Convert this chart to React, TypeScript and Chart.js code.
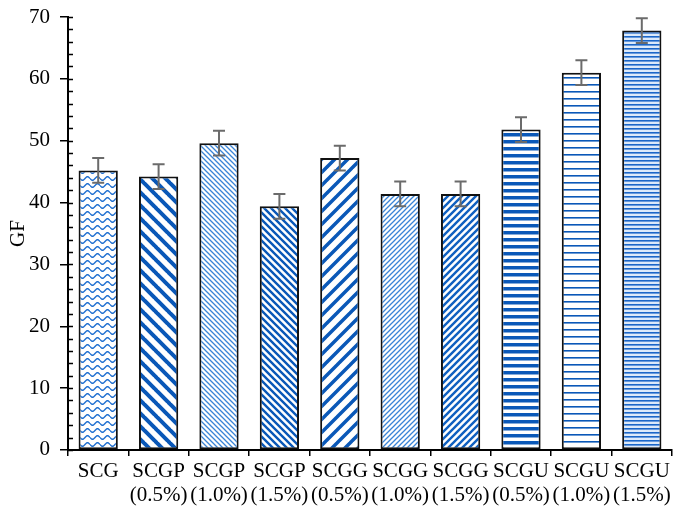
import React, { useEffect, useRef } from "react";
import { Chart, registerables } from "chart.js";

Chart.register(...registerables);

const categories: string[][] = [
  ["SCG"],
  ["SCGP", "(0.5%)"],
  ["SCGP", "(1.0%)"],
  ["SCGP", "(1.5%)"],
  ["SCGG", "(0.5%)"],
  ["SCGG", "(1.0%)"],
  ["SCGG", "(1.5%)"],
  ["SCGU", "(0.5%)"],
  ["SCGU", "(1.0%)"],
  ["SCGU", "(1.5%)"],
];
const gfValues = [45.2, 44.2, 49.6, 39.4, 47.2, 41.4, 41.4, 51.8, 61.0, 67.8];
const gfErrors = [2.0, 2.0, 2.0, 2.0, 2.0, 2.0, 2.0, 2.0, 2.0, 2.0];
const patternKinds = [
  "wave",
  "diagDownWide",
  "diagDownFine",
  "diagDownMed",
  "diagUpWide",
  "diagUpFine",
  "diagUpMed",
  "horizThick",
  "horizThin",
  "horizDense",
];

function makeTile(w: number, h: number, draw: (c: CanvasRenderingContext2D) => void) {
  const cv = document.createElement("canvas");
  cv.width = w;
  cv.height = h;
  const c = cv.getContext("2d")!;
  c.fillStyle = "#ffffff";
  c.fillRect(0, 0, w, h);
  draw(c);
  return cv;
}

function diagTile(s: number, lw: number, color: string, down: boolean) {
  return makeTile(s, s, (c) => {
    c.strokeStyle = color;
    c.lineWidth = lw;
    c.beginPath();
    for (let k = -1; k <= 1; k++) {
      if (down) {
        c.moveTo(k * s - 1, -1);
        c.lineTo(k * s + s + 1, s + 1);
      } else {
        c.moveTo(k * s - 1, s + 1);
        c.lineTo(k * s + s + 1, -1);
      }
    }
    c.stroke();
  });
}

function horizTile(period: number, lw: number, color: string, bg: string) {
  return makeTile(4, period, (c) => {
    c.fillStyle = bg;
    c.fillRect(0, 0, 4, period);
    c.fillStyle = color;
    c.fillRect(0, 0, 4, lw);
  });
}

function waveTile() {
  return makeTile(10, 7, (c) => {
    c.strokeStyle = "#1f6fd0";
    c.lineWidth = 1.4;
    c.beginPath();
    for (let x = 0; x <= 10; x += 0.5) {
      const y = 3.5 + 1.8 * Math.sin((x / 10) * Math.PI * 2);
      if (x === 0) c.moveTo(x, y);
      else c.lineTo(x, y);
    }
    c.stroke();
  });
}

function makePattern(ctx: CanvasRenderingContext2D, kind: string): CanvasPattern | string {
  let tile: HTMLCanvasElement;
  switch (kind) {
    case "wave": tile = waveTile(); break;
    case "diagDownWide": tile = diagTile(13, 4, "#0a58b8", true); break;
    case "diagDownFine": tile = diagTile(5, 1.3, "#3a84d6", true); break;
    case "diagDownMed": tile = diagTile(7, 2.4, "#0a58b8", true); break;
    case "diagUpWide": tile = diagTile(13, 3.5, "#0a58b8", false); break;
    case "diagUpFine": tile = diagTile(5, 1.3, "#3a84d6", false); break;
    case "diagUpMed": tile = diagTile(7, 2.4, "#1060c0", false); break;
    case "horizThick": tile = horizTile(7, 3.5, "#0a58b8", "#ffffff"); break;
    case "horizThin": tile = horizTile(7, 1.6, "#0a58b8", "#ffffff"); break;
    default: tile = horizTile(4, 1.6, "#1a66c8", "#dbe9fa"); break;
  }
  return ctx.createPattern(tile, "repeat") || "#1f6fd0";
}

const errorBarPlugin = {
  id: "errorBars",
  afterDatasetsDraw(chart: any) {
    const meta = chart.getDatasetMeta(0);
    const ys = chart.scales.y;
    const c = chart.ctx;
    c.save();
    c.strokeStyle = "#6b6b6b";
    c.lineWidth = 2;
    meta.data.forEach((bar: any, i: number) => {
      const v = gfValues[i];
      const e = gfErrors[i];
      const yt = ys.getPixelForValue(v + e);
      const yb = ys.getPixelForValue(v - e);
      const x = bar.x;
      c.beginPath();
      c.moveTo(x, yt);
      c.lineTo(x, yb);
      c.moveTo(x - 6, yt);
      c.lineTo(x + 6, yt);
      c.moveTo(x - 6, yb);
      c.lineTo(x + 6, yb);
      c.stroke();
    });
    c.restore();
  },
};

const minorTickPlugin = {
  id: "minorTicks",
  afterDraw(chart: any) {
    const ys = chart.scales.y;
    const c = chart.ctx;
    const x0 = chart.chartArea.left;
    c.save();
    c.strokeStyle = "#000";
    c.lineWidth = 1.5;
    c.beginPath();
    for (let v = 0; v <= 70; v += 2) {
      const y = Math.round(ys.getPixelForValue(v)) + 0.5;
      c.moveTo(x0, y);
      c.lineTo(x0 + 5, y);
    }
    c.stroke();
    c.restore();
  },
};

export default function App() {
  const ref = useRef<HTMLCanvasElement>(null);
  useEffect(() => {
    const canvas = ref.current!;
    const ctx = canvas.getContext("2d")!;
    const bgs = patternKinds.map((k) => makePattern(ctx, k));
    const font = { family: "'Liberation Serif', 'Times New Roman', serif", size: 21, lineHeight: 1.12 };
    const chart = new Chart(canvas, {
      type: "bar",
      data: {
        labels: categories,
        datasets: [
          {
            data: gfValues,
            backgroundColor: bgs as any,
            borderColor: "#111",
            borderWidth: 2,
            borderSkipped: false,
            barPercentage: 0.65,
            categoryPercentage: 1,
          },
        ],
      },
      options: {
        animation: false,
        responsive: false,
        layout: { autoPadding: false, padding: { top: 17, right: 1, left: 0, bottom: 1 } },
        plugins: { legend: { display: false }, tooltip: { enabled: false } },
        scales: {
          x: {
            afterFit: (s: any) => { s.paddingLeft = 0; s.paddingRight = 0; },
            grid: {
              display: true,
              drawOnChartArea: false,
              offset: true,
              tickLength: 6,
              color: "#000",
              lineWidth: 1.5,
            },
            border: { color: "#000", width: 2 },
            ticks: { color: "#000", font, padding: 4, maxRotation: 0, autoSkip: false },
          },
          y: {
            min: 0,
            max: 70,
            afterFit: (s: any) => { s.width = 68; s.paddingTop = 0; s.paddingBottom = 0; },
            grid: {
              display: true,
              drawOnChartArea: false,
              tickLength: 8,
              color: "#000",
              lineWidth: 1.5,
            },
            border: { color: "#000", width: 2 },
            ticks: { stepSize: 10, color: "#000", font, padding: 10 },
            title: { display: true, text: "GF", color: "#000", font, padding: { top: 7, bottom: 0 } },
          },
        },
      },
      plugins: [errorBarPlugin, minorTickPlugin],
    });
    return () => chart.destroy();
  }, []);
  return (
    <div style={{ position: "absolute", left: 0, top: 0, width: 673, height: 512 }}>
      <canvas ref={ref} width={673} height={512} style={{ display: "block" }} />
    </div>
  );
}
